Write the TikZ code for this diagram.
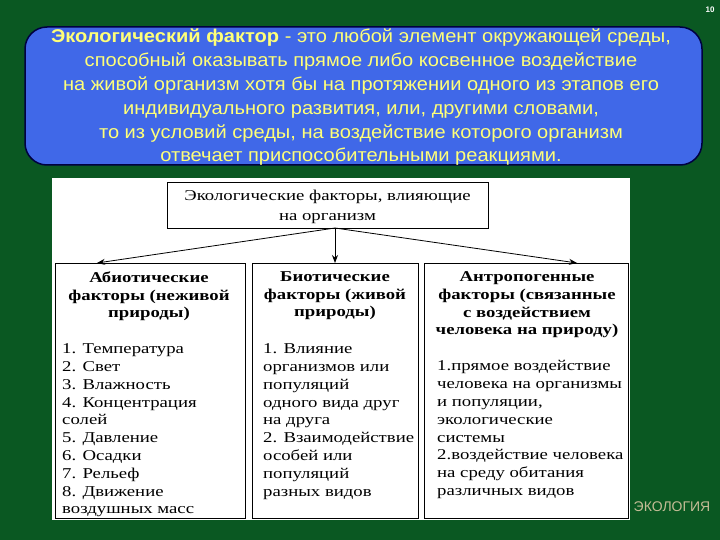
\documentclass[tikz,border=0pt]{standalone}
\usepackage{fontspec}
\setmainfont{Liberation Serif}[FakeStretch=1.25]
\newfontfamily\arialf{Liberation Sans}
\newfontfamily\arialwide{Liberation Sans}[FakeStretch=1.085]
\usetikzlibrary{arrows.meta,calc}
\definecolor{bggreen}{RGB}{10,88,34}
\definecolor{defblue}{RGB}{64,104,232}
\definecolor{defyellow}{RGB}{255,255,120}
\definecolor{logotan}{RGB}{196,188,150}
\tikzset{
  factbox/.style={draw=black, line width=1.3pt, fill=white, inner sep=0pt, anchor=north west},
  headtxt/.style={font=\bfseries\fontsize{15}{17.7}\selectfont, align=center, anchor=north, inner sep=0pt},
  listtxt/.style={font=\fontsize{15}{17.8}\selectfont, align=left, anchor=north west, inner sep=0pt},
  arr/.style={-{Stealth[length=8pt,width=6pt]}, line width=0.8pt}
}
\begin{document}
\begin{tikzpicture}[x=1pt,y=-1pt]
\fill[bggreen] (0,0) rectangle (720,540);
\useasboundingbox (0,0) rectangle (720,540);
\node[white, font=\arialf\bfseries\fontsize{8}{9}\selectfont] (pnum) at (710,10) {10};
\node[draw=black!75!blue, line width=1.5pt, fill=defblue, rounded corners=22pt,
      minimum width=677pt, minimum height=138pt, inner sep=0pt] (defbox) at (363.5,96) {};
\node[text=defyellow, align=center, font=\arialwide\fontsize{18.5}{23.8}\selectfont, inner sep=0pt] (deftext) at (361,97.5)
 {\textbf{Экологический фактор} - это любой элемент окружающей среды,\\
  способный оказывать прямое либо косвенное воздействие\\
  на живой организм хотя бы на протяжении одного из этапов его\\
  индивидуального развития, или, другими словами,\\
  то из условий среды, на воздействие которого организм\\
  отвечает приспособительными реакциями.};
\node[fill=white, inner sep=0pt, minimum width=578pt, minimum height=342pt, anchor=north west] (panel) at (52,178) {};
\node[factbox, line width=0.9pt, minimum width=321pt, minimum height=46pt] (topbox) at (167,182) {};
\node[align=center, inner sep=0pt, font=\fontsize{15}{20}\selectfont] (toptext) at (327.5,207)
 {Экологические факторы, влияющие\\ на организм};
\node[factbox, minimum width=190pt, minimum height=255pt] (abio) at (55,263) {};
\node[factbox, minimum width=166pt, minimum height=255pt] (bio) at (252,263) {};
\node[factbox, minimum width=204pt, minimum height=255pt] (anthro) at (424,263) {};
\coordinate (src) at (335,228);
\coordinate (abiotop) at (97,263);
\coordinate (biotop) at (335,263);
\coordinate (anthrotop) at (577,263);
\draw[arr] (src) -- (abiotop);
\draw[arr] (src) -- (biotop);
\draw[arr] (src) -- (anthrotop);
\node[headtxt] (abiohead) at (149,271.5) {Абиотические\\факторы (неживой\\природы)};
\node[headtxt] (biohead) at (335,271.5) {Биотические\\факторы (живой\\природы)};
\node[headtxt] (anthrohead) at (527,271.5) {Антропогенные\\факторы (связанные\\с воздействием\\человека на природу)};
\node[listtxt] (abiolist) at (62,343.5) {1. Температура\\2. Свет\\3. Влажность\\4. Концентрация\\солей\\5. Давление\\6. Осадки\\7. Рельеф\\8. Движение\\воздушных масс};
\node[listtxt] (biolist) at (263,343.5) {1. Влияние\\организмов или\\популяций\\одного вида друг\\на друга\\2. Взаимодействие\\особей или\\популяций\\разных видов};
\node[listtxt] (anthrolist) at (437,360.5) {1.прямое воздействие\\человека на организмы\\и популяции,\\экологические\\системы\\2.воздействие человека\\на среду обитания\\различных видов};
\node[text=logotan, font=\arialf\fontsize{14}{16}\selectfont, inner sep=0pt] (logo) at (672,507) {ЭКОЛОГИЯ};
\end{tikzpicture}
\end{document}
